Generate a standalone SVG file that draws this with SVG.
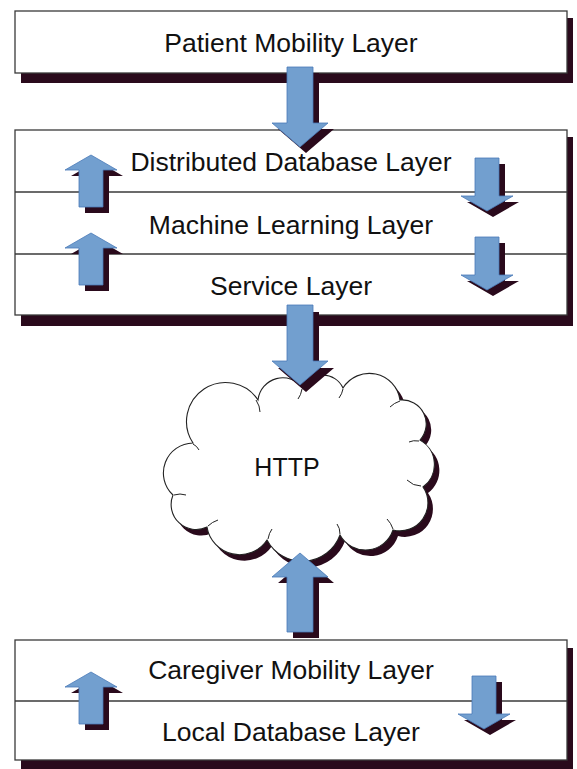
<svg xmlns="http://www.w3.org/2000/svg" width="577" height="769" viewBox="0 0 577 769">
<style>
.bg{fill:#ffffff}
.box{fill:#ffffff;stroke:#3a3a3a;stroke-width:1.3}
.shadow{fill:#2a0a1c}
.div{stroke:#3a3a3a;stroke-width:1.3;fill:none}
.arrow{fill:#729fcf;stroke:#4a7ab8;stroke-width:0.8}
.cloud{fill:#ffffff;stroke:#222222;stroke-width:1.1}
.inner{fill:none;stroke:#222222;stroke-width:1}
.lbl{font-family:"Liberation Sans",Arial,sans-serif;font-size:26.5px;fill:#111111;text-anchor:middle}
</style>
<defs>
<path id="downBig" d="M-13,0 H13 V56 H28 L0,80 L-28,56 H-13 Z"/>
<path id="upBig" d="M0,0 L28,24 H13 V79 H-13 V24 H-28 Z"/>
<path id="downSm" d="M-12,0 H12 V38 H26 L0,53 L-26,38 H-12 Z"/>
<path id="upSm" d="M0,0 L26,15 H12 V52 H-12 V15 H-26 Z"/>
<path id="cloudShape" d="M193,443 A30 30 0 0 1 258,400 A25 25 0 0 1 303,388 A22 22 0 0 1 343,388 A31 31 0 0 1 400,400 A24 24 0 0 1 420,440 A28 28 0 0 1 423,487 A28 28 0 0 1 393,530 A29 29 0 0 1 340,535 A40 40 0 0 1 267,540 A33 33 0 0 1 207,527 A25 25 0 0 1 173,495 A30 30 0 0 1 193,443 Z"/>
</defs>
<rect class="bg" x="0" y="0" width="577" height="769"/>

<g id="patient-mobility-layer">
<rect class="shadow" x="21" y="18" width="552" height="65"/>
<rect class="box" x="15" y="11" width="552" height="62"/>
<text class="lbl" x="291" y="52">Patient Mobility Layer</text>
</g>

<g id="server-stack">
<rect class="shadow" x="21" y="137" width="552" height="189"/>
<rect class="box" x="15" y="130" width="552" height="185"/>
<line class="div" x1="15" y1="192" x2="567" y2="192"/>
<line class="div" x1="15" y1="254" x2="567" y2="254"/>
<g id="distributed-database-layer"><text class="lbl" x="291" y="171">Distributed Database Layer</text></g>
<g id="machine-learning-layer"><text class="lbl" x="291" y="234">Machine Learning Layer</text></g>
<g id="service-layer"><text class="lbl" x="291" y="295">Service Layer</text></g>
</g>

<g id="http-cloud">
<use href="#cloudShape" class="shadow" transform="translate(5,6)"/>
<use href="#cloudShape" class="cloud"/>
<path class="inner" d="M256,400 q4,6 4,12 M302,389 q-1,6 -4,10 M343,389 q-1,5 -4,9 M400,401 q-6,2 -10,6 M419,441 q-6,-1 -10,1 M421,486 q-8,0 -14,-6 M393,529 q-2,-6 -6,-10 M340,534 q0,-6 -3,-10 M268,539 q1,-6 4,-10 M208,526 q4,-4 10,-6 M174,495 q6,-2 12,0 M193,444 q4,2 6,6"/>
<text class="lbl" x="287" y="476" style="font-size:25px">HTTP</text>
</g>

<g id="client-stack">
<rect class="shadow" x="21" y="648" width="552" height="121"/>
<rect class="box" x="15" y="640" width="552" height="120"/>
<line class="div" x1="15" y1="701" x2="567" y2="701"/>
<g id="caregiver-mobility-layer"><text class="lbl" x="291" y="679">Caregiver Mobility Layer</text></g>
<g id="local-database-layer"><text class="lbl" x="291" y="741">Local Database Layer</text></g>
</g>

<g id="connectors">
<use href="#downBig" class="shadow" transform="translate(306,73)"/>
<use href="#downBig" class="arrow" transform="translate(300,67)"/>
<use href="#downBig" class="shadow" transform="translate(306,312)"/>
<use href="#downBig" class="arrow" transform="translate(300,305)"/>
<use href="#upBig" class="shadow" transform="translate(306,559)"/>
<use href="#upBig" class="arrow" transform="translate(300,553)"/>

<use href="#upSm" class="shadow" transform="translate(97,161)"/>
<use href="#upSm" class="arrow" transform="translate(91,155)"/>
<use href="#upSm" class="shadow" transform="translate(97,239)"/>
<use href="#upSm" class="arrow" transform="translate(91,233)"/>
<use href="#downSm" class="shadow" transform="translate(493,164)"/>
<use href="#downSm" class="arrow" transform="translate(487,158)"/>
<use href="#downSm" class="shadow" transform="translate(493,243)"/>
<use href="#downSm" class="arrow" transform="translate(487,237)"/>

<use href="#upSm" class="shadow" transform="translate(97,678)"/>
<use href="#upSm" class="arrow" transform="translate(91,672)"/>
<use href="#downSm" class="shadow" transform="translate(490,682)"/>
<use href="#downSm" class="arrow" transform="translate(484,676)"/>
</g>
</svg>
